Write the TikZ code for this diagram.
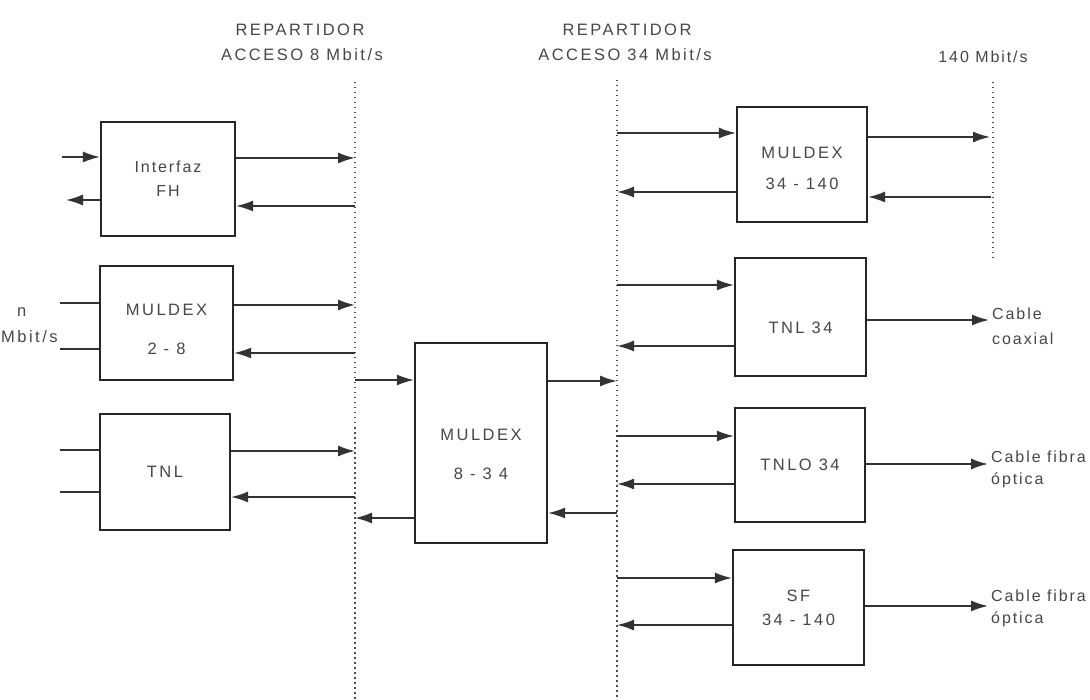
\documentclass[tikz,border=0pt]{standalone}
\usepackage{fontspec}
\setmainfont{Liberation Sans}
\newfontfamily\mainlbl[LetterSpace=15]{Liberation Sans}
\newfontfamily\smalllbl[LetterSpace=12]{Liberation Sans}
\usetikzlibrary{arrows.meta}
\begin{document}
\begin{tikzpicture}[x=1pt,y=-1pt,
  box/.style={draw=black!85, line width=2.2pt, fill=white, inner sep=0pt, align=center,
    font=\mainlbl\fontsize{16.5}{19}\selectfont, text=black!72},
  hdr/.style={font=\mainlbl\fontsize{16.5}{19}\selectfont, text=black!72, inner sep=0pt},
  side/.style={font=\smalllbl\fontsize{16}{19}\selectfont, text=black!72, inner sep=0pt, align=left},
  arr/.style={draw=black!80, line width=1.6pt, -{Latex[length=17pt,width=11pt]}},
  stub/.style={draw=black!80, line width=1.6pt},
  dotline/.style={draw=black!70, line width=1.8pt, dash pattern=on 1.5pt off 3.5pt}]
\useasboundingbox (0,0) rectangle (1090,700);
\fill[white] (0,0) rectangle (1090,700);

% headers
\node[hdr] (h1a) at (300,30) {REPARTIDOR};
\node[hdr] (h1b) at (302,55) {ACCESO 8 Mbit/s};
\node[hdr] (h2a) at (627,30) {REPARTIDOR};
\node[hdr] (h2b) at (625,55) {ACCESO 34 Mbit/s};
\node[side] (h3) at (983,57) {140 Mbit/s};

% distribution frames (dotted lines)
\coordinate (d1t) at (355,82);  \coordinate (d1b) at (355,700);
\coordinate (d2t) at (617,80);  \coordinate (d2b) at (617,700);
\coordinate (d3t) at (993,82);  \coordinate (d3b) at (993,262);
\draw[dotline] (d1t) -- (d1b);
\draw[dotline] (d2t) -- (d2b);
\draw[dotline] (d3t) -- (d3b);

% boxes
\node[box, font=\smalllbl\fontsize{16}{18}\selectfont, minimum width=134pt, minimum height=114pt] (fh) at (168,179) {Interfaz\\[6pt]FH};
\node[box, minimum width=133pt, minimum height=114pt] (m28) at (166.5,323) {\rule{0pt}{25pt}MULDEX\\[20pt]2 - 8};
\node[box, minimum width=130pt, minimum height=116pt] (tnl) at (165,472) {TNL};
\node[box, minimum width=132pt, minimum height=200pt] (m834) at (481,443) {\rule{0pt}{35pt}MULDEX\\[20pt]8 - 3 4};
\node[box, minimum width=130pt, minimum height=115pt] (m34) at (802,164.5) {\rule{0pt}{20pt}MULDEX\\[12pt]34 - 140};
\node[box, minimum width=131pt, minimum height=118pt] (t34) at (800.5,317) {\rule{0pt}{33pt}TNL 34};
\node[box, minimum width=130pt, minimum height=114pt] (tnlo) at (800,465) {TNLO 34};
\node[box, minimum width=131pt, minimum height=115pt] (sf) at (798.5,607.5) {SF\\[5pt]34 - 140};

% side labels
\node[hdr, anchor=west] (nl) at (17,312) {n};
\node[hdr, anchor=west] (ml) at (1,337) {Mbit/s};
\node[side, anchor=west] (cx) at (992,326) {Cable\\[6pt]coaxial};
\node[side, anchor=west] (fo1) at (991,469) {Cable fibra\\[3pt]óptica};
\node[side, anchor=west] (fo2) at (991,608) {Cable fibra\\[3pt]óptica};

% points on frame 1
\coordinate (p1) at (355,158); \coordinate (p2) at (355,206);
\coordinate (p3) at (355,305); \coordinate (p4) at (355,353);
\coordinate (p5) at (355,451); \coordinate (p6) at (355,497);
\coordinate (p7) at (355,380); \coordinate (p8) at (355,518);
% points on frame 2
\coordinate (q1) at (617,381); \coordinate (q2) at (617,513);
\coordinate (q3) at (617,133); \coordinate (q4) at (617,192);
\coordinate (q5) at (617,285); \coordinate (q6) at (617,346);
\coordinate (q7) at (617,436); \coordinate (q8) at (617,484);
\coordinate (q9) at (617,578); \coordinate (q10) at (617,625);
% points on frame 3
\coordinate (r1) at (990,137); \coordinate (r2) at (991,197);
% right free ends (cable outputs)
\coordinate (c1) at (989,320); \coordinate (c2) at (988,464); \coordinate (c3) at (988,606);
% left free ends
\coordinate (l1) at (62,157); \coordinate (l2) at (66,200);
\coordinate (l3) at (60,303); \coordinate (l4) at (60,349);
\coordinate (l5) at (60,450); \coordinate (l6) at (60,492);

% left side
\draw[arr] (l1) -- (fh.west |- l1);
\draw[arr] (fh.west |- l2) -- (l2);
\draw[stub] (l3) -- (m28.west |- l3);
\draw[stub] (l4) -- (m28.west |- l4);
\draw[stub] (l5) -- (tnl.west |- l5);
\draw[stub] (l6) -- (tnl.west |- l6);

% to / from frame 1
\draw[arr] (fh.east |- p1) -- (p1);
\draw[arr] (p2) -- (fh.east |- p2);
\draw[arr] (m28.east |- p3) -- (p3);
\draw[arr] (p4) -- (m28.east |- p4);
\draw[arr] (tnl.east |- p5) -- (p5);
\draw[arr] (p6) -- (tnl.east |- p6);
\draw[arr] (p7) -- (m834.west |- p7);
\draw[arr] (m834.west |- p8) -- (p8);

% to / from frame 2
\draw[arr] (m834.east |- q1) -- (q1);
\draw[arr] (q2) -- (m834.east |- q2);
\draw[arr] (q3) -- (m34.west |- q3);
\draw[arr] (m34.west |- q4) -- (q4);
\draw[arr] (q5) -- (t34.west |- q5);
\draw[arr] (t34.west |- q6) -- (q6);
\draw[arr] (q7) -- (tnlo.west |- q7);
\draw[arr] (tnlo.west |- q8) -- (q8);
\draw[arr] (q9) -- (sf.west |- q9);
\draw[arr] (sf.west |- q10) -- (q10);

% right side
\draw[arr] (m34.east |- r1) -- (r1);
\draw[arr] (r2) -- (m34.east |- r2);
\draw[arr] (t34.east |- c1) -- (c1);
\draw[arr] (tnlo.east |- c2) -- (c2);
\draw[arr] (sf.east |- c3) -- (c3);
\end{tikzpicture}
\end{document}
